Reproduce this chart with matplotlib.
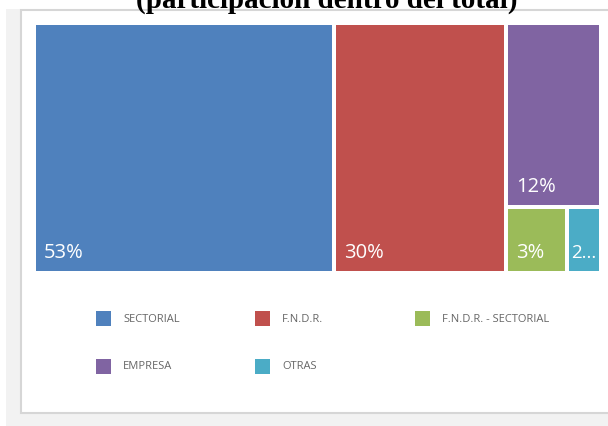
import matplotlib
matplotlib.use("Agg")
import matplotlib.pyplot as plt
from matplotlib.patches import Rectangle

# ---- data ----
categories = ["SECTORIAL", "F.N.D.R.", "EMPRESA", "F.N.D.R. - SECTORIAL", "OTRAS"]
values = [52.9, 30.4, 12.3, 2.8, 1.6]
colors = ["#4F81BD", "#C0504D", "#8064A2", "#9BBB59", "#4BACC6"]
legend_order = ["SECTORIAL", "F.N.D.R.", "F.N.D.R. - SECTORIAL", "EMPRESA", "OTRAS"]
title = "(participación dentro del total)"

W, H = 608, 427
fig = plt.figure(figsize=(W / 100, H / 100), dpi=100)
fig.patch.set_facecolor("white")


def fx(x):
    return x / W


def fy(y):
    return 1 - y / H


# background decoration
fig.patches.append(Rectangle((fx(6), 0), 1 - fx(6), fy(10), transform=fig.transFigure,
                             facecolor="#f2f2f2", edgecolor="none", zorder=0))
fig.patches.append(Rectangle((fx(21), fy(414)), 1.0, fy(11) - fy(414), transform=fig.transFigure,
                             facecolor="white", edgecolor="#d6d6d6", linewidth=1.5, zorder=1))

fig.text(fx(327), fy(7.5), title, ha="center", va="baseline", fontsize=21,
         fontweight="bold", family="Liberation Serif", color="black", zorder=5)


# ---- squarified treemap layout ----
def worst(row, side):
    s = sum(row)
    return max(max(side * side * r / (s * s), (s * s) / (side * side * r)) for r in row)


def squarify(sizes, x, y, w, h):
    total = sum(sizes)
    sizes = [s * w * h / total for s in sizes]
    rects = []
    while sizes:
        side = h if w >= h else w
        row = [sizes[0]]
        best = worst(row, side)
        i = 1
        while i < len(sizes):
            trial = row + [sizes[i]]
            wv = worst(trial, side)
            if wv <= best:
                row, best = trial, wv
                i += 1
            else:
                break
        s = sum(row)
        if w >= h:
            cw = s / h
            yy = y
            for r in row:
                rh = r / cw
                rects.append((x, yy, cw, rh))
                yy += rh
            x += cw
            w -= cw
        else:
            rh = s / w
            xx = x
            for r in row:
                rw = r / rh
                rects.append((xx, y, rw, rh))
                xx += rw
            y += rh
            h -= rh
        sizes = sizes[len(row):]
    return rects


AX0, AY0, AW, AH = 34, 24, 567, 250
ax = fig.add_axes([fx(AX0), fy(AY0 + AH), AW / W, AH / H])
ax.set_zorder(3)
ax.patch.set_alpha(0)
ax.set_xlim(0, AW)
ax.set_ylim(AH, 0)
ax.axis("off")

gap = 2
rects = squarify(values, 0, 0, AW, AH)
fig.canvas.draw()
renderer = fig.canvas.get_renderer()
for (x, y, w, h), v, c in zip(rects, values, colors):
    ax.add_patch(Rectangle((x + gap, y + gap), w - 2 * gap, h - 2 * gap,
                           facecolor=c, edgecolor="none"))
    lab = f"{round(v)}%"
    t = ax.text(x + gap + 8, y + h - gap - 14, lab, color="white", fontsize=14.5,
                family="Open Sans", ha="left", va="baseline")
    bb = t.get_window_extent(renderer)
    if bb.width > (w - 2 * gap - 10):
        t.set_text(lab[0] + "...")
        t.set_fontsize(13.5)
        t.set_x(x + gap + 3)

# ---- legend ----
col_x = [96, 255, 415]
row_y = [319, 367]
cmap = dict(zip(categories, colors))
for i, name in enumerate(legend_order):
    r, cidx = divmod(i, 3)
    sx, sy = col_x[cidx], row_y[r]
    fig.patches.append(Rectangle((fx(sx), fy(sy + 7.5)), 15 / W, 15 / H, transform=fig.transFigure,
                                 facecolor=cmap[name], edgecolor="none", zorder=3))
    fig.text(fx(sx + 27), fy(sy), name, ha="left", va="center", fontsize=8,
             family="Open Sans", color="#666666", zorder=4)

fig.savefig("out.png", dpi=100, facecolor="white")
